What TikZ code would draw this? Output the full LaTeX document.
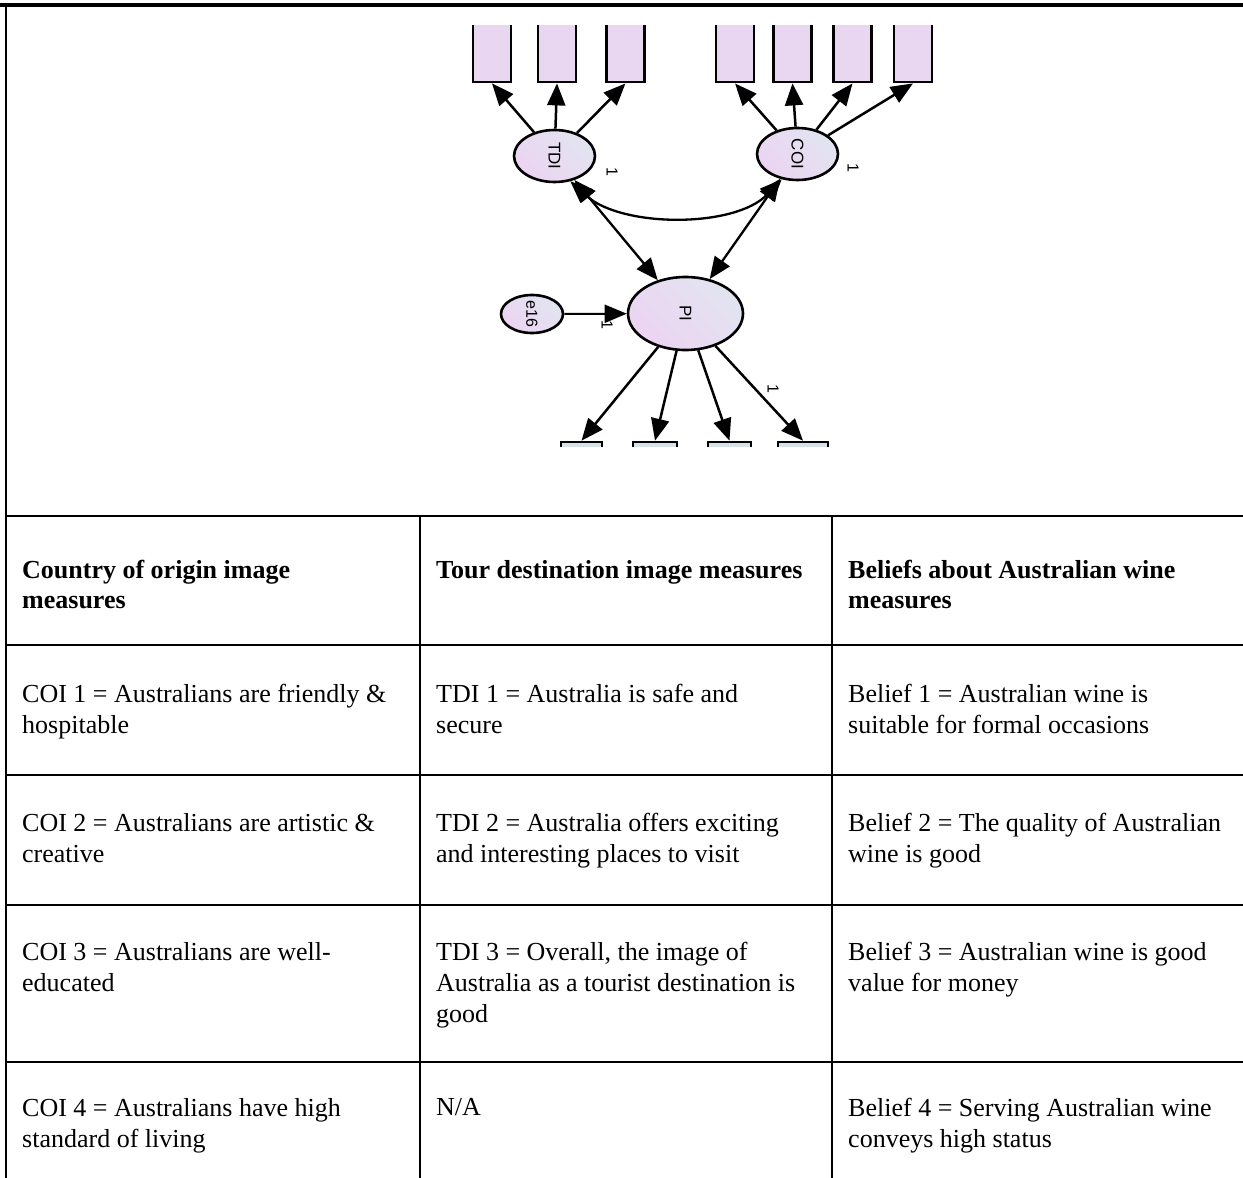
\documentclass[tikz,border=0pt]{standalone}
\usepackage{fontspec}
\setmainfont{Liberation Serif}
\newfontfamily\amosfont{Liberation Sans}
\usetikzlibrary{shapes.geometric,arrows.meta}
\definecolor{rectfill}{RGB}{233,215,242}
\definecolor{latA}{RGB}{226,228,240}
\definecolor{latB}{RGB}{236,212,242}
\definecolor{obsB}{RGB}{214,226,232}
\tikzset{
  obs/.style={draw, line width=2.8pt, fill=rectfill, minimum width=38pt, minimum height=92pt, inner sep=0pt},
  obsb/.style={draw, line width=2.6pt, fill=obsB, minimum height=92pt, inner sep=0pt},
  lat/.style={ellipse, draw, line width=2.6pt, top color=latA, bottom color=latB, shading angle=-45, inner sep=0pt,
     font=\amosfont\fontsize{17}{17}\selectfont},
  arr/.style={-{Triangle[length=22pt,width=18pt]}, line width=2.5pt},
  dbl/.style={{Triangle[length=22pt,width=18pt]}-{Triangle[length=22pt,width=18pt]}, line width=2.3pt},
  one/.style={font=\amosfont\fontsize{16}{16}\selectfont, rotate=-90, inner sep=0pt},
  cell/.style={anchor=north west, align=left, inner sep=0pt, font=\fontsize{26}{31}\selectfont},
  hcell/.style={cell, font=\bfseries\fontsize{26}{30}\selectfont},
  rule/.style={line width=2.4pt},
}
\begin{document}
\begin{tikzpicture}[x=1pt,y=-1pt]
\useasboundingbox (0,0) rectangle (1243,1178);
% frame and table grid
\coordinate (tl) at (0,5);
\coordinate (tr) at (1243,5);
\draw[line width=3.4pt] (tl) -- (tr);
\coordinate (l0) at (6,5);
\coordinate (l1) at (6,1178);
\draw[line width=2.2pt] (l0) -- (l1);
\foreach \yy in {516,645,775,905,1062}{
  \draw[rule] (5,\yy) -- (1243,\yy);
}
\foreach \xx in {420,832}{
  \draw[line width=2.2pt] (\xx,516) -- (\xx,1178);
}
% diagram
\begin{scope}
\clip (0,25) rectangle (1243,446);
\node[obs] (t1) at (492,36) {};
\node[obs] (t2) at (557,36) {};
\node[obs] (t3) at (625.5,36) {};
\node[obs] (c1) at (735,36) {};
\node[obs] (c2) at (792.5,36) {};
\node[obs] (c3) at (852.5,36) {};
\node[obs] (c4) at (913,36) {};
\node[obsb, minimum width=41pt] (b1) at (581.5,488) {};
\node[obsb, minimum width=44pt] (b2) at (655,488) {};
\node[obsb, minimum width=43pt] (b3) at (729.5,488) {};
\node[obsb, minimum width=50pt] (b4) at (803,488) {};
\node[lat, minimum width=81pt, minimum height=52pt] (TDI) at (554.5,156) {\rotatebox{-90}{TDI}};
\node[lat, minimum width=81pt, minimum height=52pt] (COI) at (797.5,154) {\rotatebox{-90}{COI}};
\node[lat, minimum width=115pt, minimum height=73pt] (PI) at (685.5,313.5) {\rotatebox{-90}{PI}};
\node[lat, minimum width=62pt, minimum height=38pt, font=\amosfont\fontsize{16}{16}\selectfont] (e16) at (532,314) {\rotatebox{-90}{e16}};
\draw[arr] (TDI) -- (t1.south);
\draw[arr] (TDI) -- (t2.south);
\draw[arr] (TDI) -- (t3.south);
\draw[arr] (COI) -- (c1.south);
\draw[arr] (COI) -- (c2.south);
\draw[arr] (COI) -- (c3.south);
\draw[arr] (COI) -- (c4.south);
\draw[arr] (PI) -- (b1.north);
\draw[arr] (PI) -- (b2.north);
\draw[arr] (PI) -- (b3.north);
\draw[arr] (PI) -- (b4.north);
\draw[arr, line width=2pt] (e16) -- (PI);
\draw[dbl] (TDI) -- (PI);
\draw[dbl] (COI) -- (PI);
\draw[dbl] (TDI.-58) .. controls (622,228) and (735,228) .. (COI.-122);
\node[one] (o1) at (612,172) {1};
\node[one] (o2) at (853,168) {1};
\node[one] (o3) at (607,325) {1};
\node[one] (o4) at (773,389) {1};
\end{scope}
% table text
\node[hcell] (h1) at (22,560) {Country of origin image\\measures};
\node[hcell] (h2) at (436,560) {Tour destination image measures};
\node[hcell] (h3) at (848,560) {Beliefs about Australian wine\\measures};
\node[cell] (r11) at (22,684) {COI 1 = Australians are friendly \&\\hospitable};
\node[cell] (r12) at (436,684) {TDI 1 = Australia is safe and\\secure};
\node[cell] (r13) at (848,684) {Belief 1 = Australian wine is\\suitable for formal occasions};
\node[cell] (r21) at (22,813) {COI 2 = Australians are artistic \&\\creative};
\node[cell] (r22) at (436,813) {TDI 2 = Australia offers exciting\\and interesting places to visit};
\node[cell] (r23) at (848,813) {Belief 2 = The quality of Australian\\wine is good};
\node[cell] (r31) at (22,942) {COI 3 = Australians are well-\\educated};
\node[cell] (r32) at (436,942) {TDI 3 = Overall, the image of\\Australia as a tourist destination is\\good};
\node[cell] (r33) at (848,942) {Belief 3 = Australian wine is good\\value for money};
\node[cell] (r41) at (22,1098) {COI 4 = Australians have high\\standard of living};
\node[cell] (r42) at (436,1098) {N/A};
\node[cell] (r43) at (848,1098) {Belief 4 = Serving Australian wine\\conveys high status};
\end{tikzpicture}
\end{document}
